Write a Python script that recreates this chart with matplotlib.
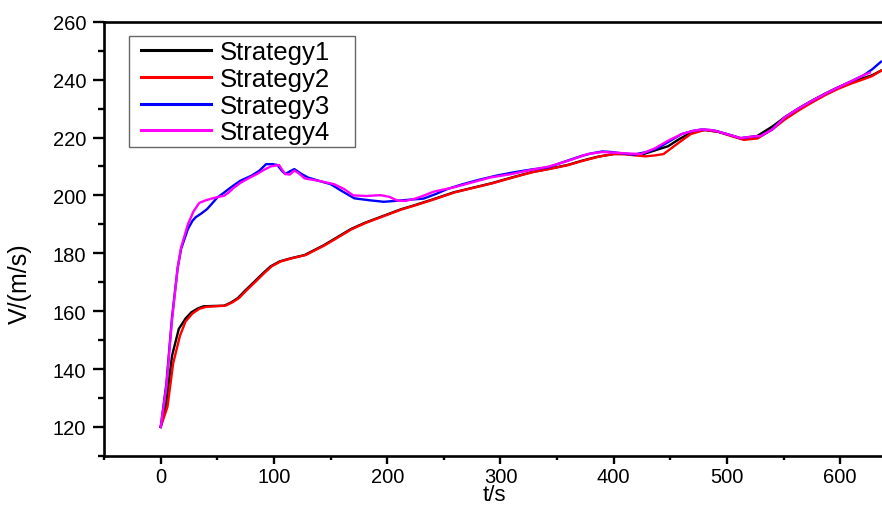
import matplotlib.pyplot as plt
from matplotlib.patches import Rectangle
from matplotlib.ticker import MultipleLocator

plt.rcParams['font.family'] = ['Liberation Sans', 'DejaVu Sans']

# Speed profiles for the four strategies (time in s, speed in m/s)
t1 = [0, 5, 10, 16, 22, 27, 33, 38, 46, 56, 62, 68, 75, 83, 90, 97, 105, 115, 127, 135,
      144, 156, 168, 180, 197, 212, 224, 240, 259, 275, 292, 310, 327, 343, 359, 372, 386,
      400, 407, 418, 427, 436, 448, 458, 466, 474, 481, 492, 503, 512, 520, 527, 540, 551,
      563, 575, 587, 598, 610, 621, 628, 636]
v1 = [120, 128.5, 144.6, 153.9, 157.5, 159.6, 161, 161.7, 161.8, 161.9, 163, 164.5, 167.3,
      170.3, 173, 175.5, 177.2, 178.3, 179.4, 181, 182.8, 185.6, 188.4, 190.5, 193, 195.2,
      196.6, 198.6, 201.1, 202.6, 204.2, 206.2, 208, 209.2, 210.5, 212, 213.4, 214.3, 214.4,
      214.2, 214.4, 215.5, 217, 219.5, 221.2, 222.3, 222.6, 222, 220.8, 219.7, 220, 220.6,
      223.8, 227, 230, 232.7, 235.2, 237.3, 239.3, 240.6, 241.5, 243.1]

t2 = [0, 6, 11, 17, 22, 28, 34, 40, 48, 57, 63, 69, 76, 84, 91, 98, 106, 116, 128, 136,
      145, 157, 169, 181, 198, 213, 225, 241, 260, 276, 293, 311, 328, 344, 360, 373, 387,
      400, 410, 420, 428, 436, 444, 456, 468, 480, 492, 503, 515, 527, 540, 551, 563, 575,
      587, 598, 610, 621, 628, 636]
v2 = [120, 127, 142, 151.5, 156.5, 159.2, 160.8, 161.5, 161.7, 161.9, 163, 164.5, 167.3,
      170.3, 173, 175.5, 177.2, 178.3, 179.4, 181, 182.8, 185.6, 188.4, 190.5, 193, 195.2,
      196.6, 198.6, 201.1, 202.6, 204.2, 206.2, 208, 209.2, 210.5, 212, 213.4, 214.3, 214.2,
      213.8, 213.5, 213.8, 214.3, 217.8, 221.2, 222.6, 222, 220.6, 219.2, 219.7, 222.8,
      226.2, 229.3, 232.1, 234.7, 236.8, 238.7, 240.2, 241.2, 243.1]

t3 = [0, 5, 10, 15, 18, 24, 28, 31, 36, 41, 46, 50, 56, 62, 70, 80, 87, 93, 99, 103, 107,
      110, 114, 118, 124, 130, 140, 150, 160, 171, 185, 197, 210, 222, 232, 243, 253, 266,
      280, 296, 312, 328, 342, 359, 372, 380, 390, 398, 408, 418, 430, 440, 450, 460, 470,
      478, 488, 500, 512, 522, 530, 540, 551, 563, 575, 587, 598, 610, 621, 628, 636]
v3 = [120, 135, 158, 175, 181.5, 188.4, 191.2, 192.5, 193.8, 195.3, 197.5, 199.3, 201,
      202.8, 205, 206.8, 208.5, 210.8, 210.8, 210.5, 208.5, 207.4, 208.3, 209.1, 207.5,
      206.2, 205, 203.9, 201.5, 199, 198.3, 197.8, 198.2, 198.6, 198.9, 200.5, 202.2, 203.8,
      205.3, 206.8, 208, 209, 209.7, 212, 213.7, 214.5, 215.2, 215, 214.5, 214.1, 215.1,
      216.6, 218.9, 221.2, 222.3, 222.8, 222.5, 221.2, 219.8, 220.3, 220.6, 222.8, 227, 230,
      232.7, 235.2, 237.3, 239.5, 241.6, 243.5, 246.2]

t4 = [0, 5, 10, 15, 18, 24, 29, 34, 39, 44, 50, 56, 60, 65, 71, 78, 85, 91, 97, 101, 104.5,
      107, 110, 114, 118, 122, 127, 140, 153, 162, 170, 182, 194, 202, 209, 216, 224, 232,
      241, 259, 275, 291, 310, 327, 343, 360, 377, 390, 400, 412, 424, 436, 448, 460, 470,
      478, 488, 500, 512, 522, 530, 540, 551, 563, 575, 587, 598, 610, 621, 626]
v4 = [120, 134, 157, 175, 182, 190, 194.5, 197.4, 198.2, 198.8, 199.4, 199.9, 201, 202.8,
      204.5, 206, 207.4, 208.8, 210, 210.3, 210.5, 209, 207.4, 207.2, 208.6, 207.6, 205.9,
      205, 203.9, 202.2, 200, 199.8, 200.1, 199.5, 198.2, 198.1, 198.8, 199.9, 201.3, 202.8,
      204.5, 206.2, 207.4, 208.8, 210, 212, 214.3, 215, 214.8, 214.5, 214.3, 216.2, 218.9,
      221.2, 222.3, 222.8, 222.5, 221.2, 219.8, 220.3, 220.6, 222.8, 227, 230, 232.7, 235.2,
      237.3, 239.5, 241.6, 242.4]

labels = ['Strategy1', 'Strategy2', 'Strategy3', 'Strategy4']
colors = ['black', 'red', 'blue', 'magenta']

fig = plt.figure(figsize=(8.82, 5.06), dpi=100)
ax = fig.add_axes([0.118, 0.097, 0.886, 0.858])

for t, v, lab, c in zip([t1, t2, t3, t4], [v1, v2, v3, v4], labels, colors):
    ax.plot(t, v, color=c, lw=1.7, label=lab)

ax.set_xlim(-50, 640)
ax.set_ylim(110, 260)
ax.xaxis.set_major_locator(MultipleLocator(100))
ax.xaxis.set_minor_locator(MultipleLocator(50))
ax.yaxis.set_major_locator(MultipleLocator(20))
ax.yaxis.set_minor_locator(MultipleLocator(10))

for s in ax.spines.values():
    s.set_linewidth(1.9)
ax.spines['right'].set_visible(False)

ax.tick_params(which='both', direction='out', width=1.7, top=False, right=False,
               labelsize=14.5)
ax.tick_params(axis='x', which='major', length=5.5, pad=2.5)
ax.tick_params(axis='x', which='minor', length=3)
ax.tick_params(axis='y', which='major', length=8, pad=5)
ax.tick_params(axis='y', which='minor', length=4.5)

ax.set_xlabel('t/s', fontsize=16)
ax.xaxis.set_label_coords(0.5, -0.064)
ax.set_ylabel('V/(m/s)', fontsize=18)
ax.yaxis.set_label_coords(-0.092, 0.4)

# legend entries without their own frame, boxed by a plain rectangle
leg = ax.legend(loc='upper left', bbox_to_anchor=(0.047, 0.958), borderaxespad=0,
                frameon=False, fontsize=18.5, handlelength=2.75, labelspacing=0.11,
                borderpad=0, handletextpad=0.32)
for h in leg.get_lines():
    h.set_linewidth(2.2)
ax.add_patch(Rectangle((0.032, 0.7116), 0.289, 0.2555, transform=ax.transAxes,
                       fill=False, edgecolor='#666666', lw=1.0, zorder=5))

plt.savefig('out.png', dpi=100)
